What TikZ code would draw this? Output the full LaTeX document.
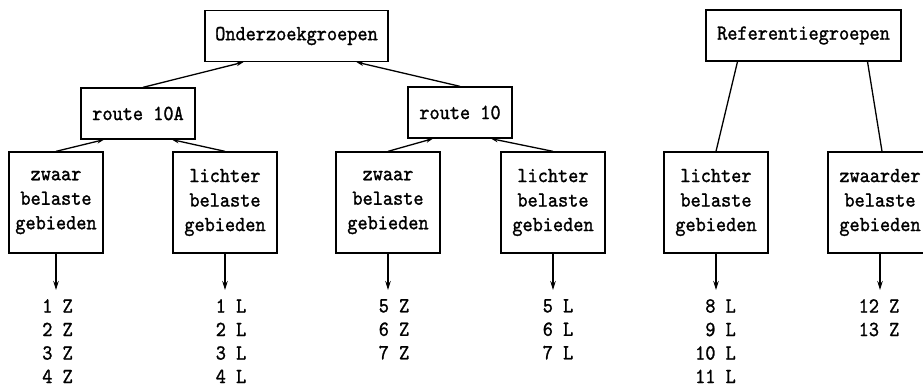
\documentclass[tikz,border=0pt]{standalone}
\usepackage{fontspec}
\usetikzlibrary{arrows.meta}
% typewriter face, slightly condensed and darkened
\newfontfamily\typewriter{lmmono10-regular.otf}[FakeBold=1.2, FakeStretch=0.9]
\begin{document}
\begin{tikzpicture}[x=1pt,y=-1pt,
  every node/.style={font=\typewriter\fontsize{21.5}{24.5}\selectfont},
  box/.style={draw, line width=1.3pt, align=center, inner sep=0pt},
  grp/.style={box, minimum height=51pt},
  area/.style={box, minimum width=104pt, minimum height=101pt},
  link/.style={line width=1.3pt},
  up/.style={link, -{Stealth[length=7pt,width=4.5pt]}},
  down/.style={link, -{Stealth[length=9pt,width=5.5pt]}},
  list/.style={align=center, inner sep=0pt, anchor=north,
    font=\typewriter\fontsize{21.5}{23.5}\selectfont}
]
\useasboundingbox (0,0) rectangle (923,390);

% top level groups
\node[grp, minimum width=183pt] (ond) at (296.5,36) {Onderzoekgroepen};
\node[grp, minimum width=195pt] (ref) at (803.5,35.5) {Referentiegroepen};

% routes
\node[grp, minimum width=114pt] (r10a) at (138,113.5) {route 10A};
\node[grp, minimum width=104pt] (r10) at (460,112.5) {route 10};

% areas
\node[area, minimum width=94pt] (a1) at (56,202.5) {zwaar\\belaste\\gebieden};
\node[area] (a2) at (225,202.5) {lichter\\belaste\\gebieden};
\node[area] (a3) at (388,202.5) {zwaar\\belaste\\gebieden};
\node[area] (a4) at (553,202.5) {lichter\\belaste\\gebieden};
\node[area] (a5) at (716,202.5) {lichter\\belaste\\gebieden};
\node[area] (a6) at (880,202.5) {zwaarder\\belaste\\gebieden};

% area lists
\node[list] (l1) at (57.5,299) {1 Z\\2 Z\\3 Z\\4 Z};
\node[list] (l2) at (231,299) {1 L\\2 L\\3 L\\4 L};
\node[list] (l3) at (394,299) {5 Z\\6 Z\\7 Z};
\node[list] (l4) at (558,299) {5 L\\6 L\\7 L};
\node[list, align=right, anchor=north east] (l5) at (736,299) {8 L\\9 L\\10 L\\11 L};
\node[list] (l6) at (879,299) {12 Z\\13 Z};

% connectors
\draw[up] ([xshift=5pt]r10a.north) -- ([xshift=-53pt]ond.south);
\draw[up] (r10.north) -- ([xshift=60pt]ond.south);
\draw[up] (a1.north) -- ([xshift=-34pt]r10a.south);
\draw[up] (a2.north) -- ([xshift=34pt]r10a.south);
\draw[up] (a3.north) -- ([xshift=-27pt]r10.south);
\draw[up] (a4.north) -- ([xshift=31pt]r10.south);
\draw[link] ([xshift=-66pt]ref.south) -- (a5.north);
\draw[link] ([xshift=64pt]ref.south) -- ([xshift=2pt]a6.north);

\foreach \a/\l in {a1/l1,a2/l2,a3/l3,a4/l4,a5/l5,a6/l6}
  \draw[down, shorten >=9pt] (\a.south) -- (\a.south |- \l.north);
\end{tikzpicture}
\end{document}
